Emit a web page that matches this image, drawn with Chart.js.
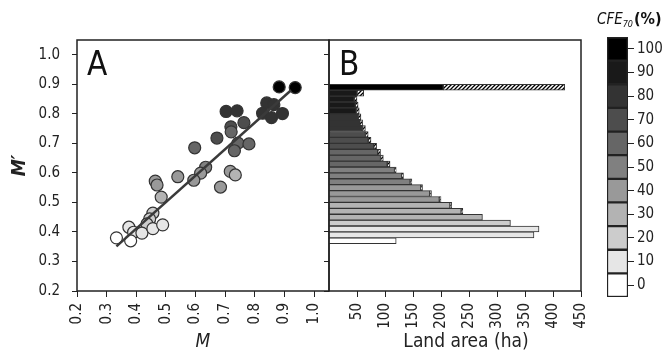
<!DOCTYPE html>
<html><head><meta charset="utf-8">
<script src="https://cdn.jsdelivr.net/npm/chart.js@4"></script>
<style>
html,body{margin:0;padding:0;background:#fff;width:662px;height:354px;overflow:hidden}
canvas{position:absolute;top:0}
#cA{left:0}#cB{left:300px}#cL{left:580px}
</style></head><body>
<canvas id="cA" width="332" height="354"></canvas>
<canvas id="cB" width="300" height="354"></canvas>
<canvas id="cL" width="82" height="354"></canvas>
<script>
// ---------- Panel A: M vs M' scatter ----------
const mX = [0.882,0.936,0.840,0.864,0.826,0.856,0.893,0.703,0.740,0.763,0.719,0.720,0.672,0.743,0.780,0.731,0.597,0.634,0.617,0.594,0.540,0.717,0.734,0.684,0.464,0.470,0.484,0.456,0.445,0.436,0.375,0.391,0.419,0.456,0.489,0.333,0.381];
const mY = [0.891,0.889,0.837,0.831,0.802,0.787,0.801,0.808,0.810,0.770,0.756,0.739,0.718,0.701,0.698,0.675,0.685,0.619,0.599,0.575,0.587,0.605,0.593,0.552,0.572,0.559,0.518,0.464,0.444,0.427,0.416,0.399,0.396,0.411,0.424,0.380,0.370];
const mLevel = [100,100,80,80,80,80,80,80,80,70,70,60,70,60,60,60,60,50,40,40,40,40,30,40,40,40,30,20,20,20,10,10,10,10,10,0,0];
const fitX = [0.333, 0.922];
const fitY = [0.351, 0.880];
const xTicksA = [0.2,0.3,0.4,0.5,0.6,0.7,0.8,0.9,1.0];
const yTicks = [0.2,0.3,0.4,0.5,0.6,0.7,0.8,0.9,1.0];

// ---------- Panel B: land area by M' class ----------
const barPos   = [0.37,0.39,0.41,0.43,0.45,0.47,0.49,0.51,0.53,0.55,0.57,0.59,0.61,0.63,0.65,0.67,0.69,0.71,0.73,0.75,0.77,0.79,0.81,0.83,0.85,0.87,0.89];
const barSolid = [120,366,375,324,274,236,216,197,180,164,145,130,117,104,92,87,80,70,65,60,55,52,49,47,45,50,204];
const barHatch = [0,0,0,0,0,3,3,3,3,3,3,3,3,5,5,5,5,5,5,5,5,5,5,5,5,12,217];
const barLevel = [0,10,10,20,30,30,30,40,40,40,50,50,50,60,60,60,70,70,70,80,80,80,90,90,90,90,100];
const xTicksB = [50,100,150,200,250,300,350,400,450];

// ---------- Colour bar legend ----------
const legendLevels = [0,10,20,30,40,50,60,70,80,90,100];
const legendLabels = ['0','10','20','30','40','50','60','70','80','90','100'];

const FONT = "'Liberation Sans Narrow','Arial Narrow','DejaVu Sans Condensed',sans-serif";
Chart.defaults.font.family = FONT;
Chart.defaults.font.size = 15;
Chart.defaults.color = '#222';

function gray(level){const g=Math.round(255*(1-level/100));return `rgb(${g},${g},${g})`;}
function makeHatch(){
  const c=document.createElement('canvas');c.width=4;c.height=4;
  const g=c.getContext('2d');g.fillStyle='#fff';g.fillRect(0,0,4,4);
  g.strokeStyle='#000';g.lineWidth=1.3;g.beginPath();
  g.moveTo(0,4);g.lineTo(4,0);g.moveTo(-1,1);g.lineTo(1,-1);g.moveTo(3,5);g.lineTo(5,3);g.stroke();
  return g.createPattern(c,'repeat');
}
const boxPlugin = {id:'box',afterDraw(c){const a=c.chartArea,x=c.ctx;x.save();x.strokeStyle='#222';x.lineWidth=1.5;x.strokeRect(a.left,a.top,a.right-a.left,a.bottom-a.top);x.restore();}};
const panelLabel = (txt)=>({id:'pl'+txt,afterDraw(c){const a=c.chartArea,x=c.ctx;x.save();x.font=`33px ${FONT}`;x.fillStyle='#111';x.textBaseline='alphabetic';x.fillText(txt,a.left+10,a.top+35);x.restore();}});
const tickGrid = (len)=>({drawOnChartArea:false,tickLength:len,color:'#222',lineWidth:1,offset:false});
const baseOpts = {responsive:false,animation:false,devicePixelRatio:1,plugins:{legend:{display:false},tooltip:{enabled:false}}};
const fixH = (h)=>(s)=>{s.height=h;s.paddingLeft=0;s.paddingRight=0;};
const fixW = (w)=>(s)=>{s.width=w;s.paddingTop=0;s.paddingBottom=0;};

new Chart(document.getElementById('cA'),{
  type:'scatter',
  data:{datasets:[
    {type:'line',data:fitX.map((x,i)=>({x,y:fitY[i]})),borderColor:'#3a3a3a',borderWidth:2.5,pointRadius:0,showLine:true,fill:false},
    {data:mX.map((x,i)=>({x,y:mY[i]})),backgroundColor:mLevel.map(gray),borderColor:'#333',borderWidth:1.2,pointRadius:6}
  ]},
  options:{...baseOpts,
    layout:{autoPadding:false,padding:{top:40,right:3,left:0,bottom:0}},
    scales:{
      x:{type:'linear',offset:false,min:0.2,max:1.05,afterBuildTicks:s=>{s.ticks=xTicksA.map(v=>({value:v}));},afterFit:fixH(63),
        grid:tickGrid(6),border:{display:false},
        ticks:{minRotation:90,maxRotation:90,padding:6,callback:v=>Number(v).toFixed(1)},
        title:{display:true,text:'M',font:{size:19,style:'italic'},padding:{top:0,bottom:1}}},
      y:{type:'linear',offset:false,min:0.2,max:1.05,afterBuildTicks:s=>{s.ticks=yTicks.map(v=>({value:v}));},afterFit:fixW(77),
        grid:tickGrid(5),border:{display:false},
        ticks:{padding:12,callback:v=>Number(v).toFixed(1)},
        title:{display:true,text:'M′',font:{size:19,style:'italic',weight:'bold'},padding:{top:9,bottom:0}}}
    }},
  plugins:[boxPlugin,panelLabel('A')]
});

const hatch = makeHatch();
const landTitle = 'Land area (ha)';
new Chart(document.getElementById('cB'),{
  type:'bar',
  data:{datasets:[
    {data:barPos.map((p,i)=>({x:barSolid[i],y:p})),backgroundColor:barLevel.map(gray),borderColor:'#333',borderWidth:1,borderSkipped:false,barPercentage:1,categoryPercentage:1},
    {data:barPos.map((p,i)=>({x:barHatch[i]||null,y:p})),backgroundColor:hatch,borderColor:'#333',borderWidth:1,borderSkipped:false,barPercentage:1,categoryPercentage:1}
  ]},
  options:{...baseOpts,indexAxis:'y',
    layout:{autoPadding:false,padding:{top:40,right:19,left:0,bottom:0}},
    scales:{
      x:{type:'linear',offset:false,min:0,max:450,stacked:true,afterBuildTicks:s=>{s.ticks=xTicksB.map(v=>({value:v}));},afterFit:fixH(63),
        grid:tickGrid(6),border:{display:false},
        ticks:{minRotation:90,maxRotation:90,padding:6}},
      y:{type:'linear',offset:false,min:0.2,max:1.05,stacked:true,afterBuildTicks:s=>{s.ticks=yTicks.map(v=>({value:v}));},afterFit:fixW(29),
        grid:tickGrid(5),border:{display:false},ticks:{display:false}}
    }},
  plugins:[boxPlugin,panelLabel('B'),{id:'landTitle',afterDraw(c){const a=c.chartArea,x=c.ctx;x.save();x.font=`19px ${FONT}`;x.fillStyle='#222';x.textAlign='center';x.textBaseline='middle';x.fillText(landTitle,(a.left+a.right)/2+11,342);x.restore();}}]
});

new Chart(document.getElementById('cL'),{
  type:'bar',
  data:{labels:[''],datasets:legendLevels.map(l=>({data:[1],backgroundColor:gray(l),borderColor:'#222',borderWidth:1.5,borderSkipped:false,barPercentage:1,categoryPercentage:1}))},
  options:{...baseOpts,
    layout:{autoPadding:false,padding:{top:37,right:0,left:27,bottom:57}},
    scales:{
      x:{display:false,stacked:true},
      y:{position:'right',stacked:true,min:0,max:11,afterBuildTicks:s=>{s.ticks=legendLabels.map((_,i)=>({value:i+0.5}));},afterFit:fixW(34),
        grid:tickGrid(6),border:{display:false},ticks:{padding:3,callback:(v,i)=>legendLabels[i]}}
    }},
  plugins:[{id:'legTitle',afterDraw(c){const x=c.ctx;x.save();x.fillStyle='#111';x.textBaseline='alphabetic';
    let px=17;x.font=`italic 15px ${FONT}`;x.fillText('CFE',px,24);px+=x.measureText('CFE').width;
    x.font=`italic 9px ${FONT}`;x.fillText('70',px,27);px+=x.measureText('70').width+1;
    x.font=`bold 16px ${FONT}`;x.fillText('(%)',px,24);x.restore();}}]
});
</script></body></html>
